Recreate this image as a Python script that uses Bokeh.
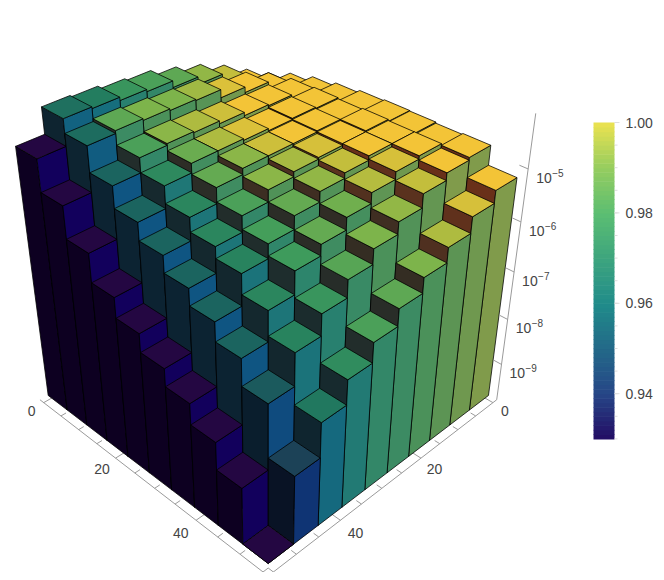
import numpy as np
from bokeh.plotting import figure
from bokeh.models import Range1d
from bokeh.embed import file_html
from bokeh.resources import INLINE

# log10 of the height of each bar, rows along the left axis, columns along the right axis
LOG_HEIGHT = [
 [-5.22,-4.96,-4.69,-4.49,-4.35,-4.23,-4.19,-4.13,-4.10,-4.59],
 [-5.04,-4.84,-4.64,-4.54,-4.39,-4.37,-4.34,-4.31,-4.36,-5.20],
 [-4.92,-4.76,-4.69,-4.67,-4.61,-4.56,-4.54,-4.57,-4.84,-5.82],
 [-4.85,-4.74,-4.72,-4.74,-4.70,-4.67,-4.67,-4.84,-5.25,-6.38],
 [-4.80,-4.76,-4.74,-4.76,-4.76,-4.76,-4.87,-5.16,-5.59,-6.78],
 [-4.78,-4.74,-4.76,-4.79,-4.82,-4.91,-5.13,-5.43,-5.92,-7.15],
 [-4.79,-4.76,-4.76,-4.84,-4.94,-5.13,-5.38,-5.65,-6.25,-7.51],
 [-4.81,-4.76,-4.82,-4.96,-5.16,-5.39,-5.60,-6.04,-6.63,-7.94],
 [-4.79,-4.84,-4.98,-5.24,-5.47,-5.76,-6.10,-6.52,-7.17,-8.51],
 [-5.16,-5.40,-5.71,-6.00,-6.30,-6.64,-7.04,-7.54,-8.26,-9.72],
]
# colour value of each bar
COLOR = [
 [1.0,1.0,.99,.983,.975,.972,.968,.96,.955,.93],
 [1.0,1.0,1.0,.995,.985,.98,.98,.975,.953,.93],
 [1.0,1.0,1.0,1.0,.992,.987,.982,.972,.95,.93],
 [1.0,1.0,1.0,1.0,.995,.987,.977,.964,.95,.93],
 [1.0,1.0,1.0,1.0,.992,.982,.976,.963,.95,.93],
 [1.0,1.0,1.0,.994,.986,.982,.972,.963,.95,.93],
 [1.0,1.0,1.0,.99,.983,.976,.971,.962,.95,.93],
 [1.0,1.0,.994,.988,.978,.976,.97,.963,.95,.93],
 [1.0,1.0,.99,.983,.98,.974,.968,.962,.948,.93],
 [1.0,.994,.987,.98,.975,.972,.965,.958,.943,.93],
]
X_TICKS = [0,5,10,15,20,25,30,35,40,45,50,55]
X_LABELS = [0,20,40]
X_MAX = 55
Z_TICKS = [-9,-8,-7,-6,-5]
BAR_TICKS = [.94,.96,.98,1.0]

STOPS = [.93,.945,.95,.96,.97,.98,.99,1.0]
TOP = [(36,7,66),(27,75,90),(27,100,95),(35,125,95),(62,155,92),(125,180,75),(195,190,60),(243,196,55)]
RIGHT = [(18,0,92),(15,60,120),(15,85,130),(22,110,125),(45,133,108),(75,145,90),(100,150,82),(128,155,75)]
LEFT = [(13,0,33),(8,22,38),(12,35,50),(16,38,46),(30,45,45),(52,45,35),(90,50,30),(105,48,25)]
BAR = [(35,12,100),(38,70,135),(32,140,138),(92,190,114),(150,205,95),(236,226,80)]
BAR_STOPS = [.93,.94,.96,.98,.99,1.0]
Q_PER_DECADE = .0295
LOG_BASE = -9.72
Q_FLOOR = .003
Q_AXIS_TOP = -.1685
CAM = np.array([[211.8/50,-304.2/50,267.7,360.1],[100.1/50,100.1/50,2075,362.8],[-.172/50,-.172/50,1,1.344]])

def proj(a,b,q):
    v = CAM @ np.array([a,b,q,1.0])
    return v[0]/v[2], v[1]/v[2]
def zq(log):
    return -Q_PER_DECADE*(log-LOG_BASE)
def col(v,stops,table):
    return "#%02x%02x%02x" % tuple(int(round(np.interp(v,stops,[t[c] for t in table]))) for c in range(3))

p = figure(width=656,height=572,x_range=Range1d(0,656),y_range=Range1d(572,0),output_backend="svg",toolbar_location=None,x_axis_location=None,y_axis_location=None,min_border=0,outline_line_color=None)
p.grid.visible=False
AX="#9a9a9a"
def seg(p1,p2,w=1.0):
    p.line([p1[0],p2[0]],[p1[1],p2[1]],line_color=AX,line_width=w)
seg(proj(-1,51,Q_FLOOR),proj(51,51,Q_FLOOR))
seg(proj(51,-1,Q_FLOOR),proj(51,51,Q_FLOOR))
seg(proj(51,-1,Q_FLOOR),proj(51,-1,Q_AXIS_TOP))
for t in X_TICKS:
    L=1.7 if t in X_LABELS else 1.0
    u=t*50/X_MAX
    seg(proj(u,51,Q_FLOOR),proj(u,51-L,Q_FLOOR))
    seg(proj(51,u,Q_FLOOR),proj(51-L,u,Q_FLOOR))

xs,ys,fc=[],[],[]
order=sorted(((i,j) for i in range(10) for j in range(10)),key=lambda t:t[0]+t[1])
for i,j in order:
    a0,a1,b0,b1=5*i,5*i+5,5*j,5*j+5
    q=zq(LOG_HEIGHT[i][j])
    c=COLOR[i][j]
    for corners,tab in ([[(a0,b1,0),(a1,b1,0),(a1,b1,q),(a0,b1,q)],LEFT],[[(a1,b1,0),(a1,b0,0),(a1,b0,q),(a1,b1,q)],RIGHT],[[(a0,b0,q),(a1,b0,q),(a1,b1,q),(a0,b1,q)],TOP]):
        pts=[proj(*k) for k in corners]
        xs.append([t[0] for t in pts]);ys.append([t[1] for t in pts]);fc.append(col(c,STOPS,tab))
p.patches(xs,ys,fill_color=fc,line_color="#000000",line_width=.9,line_alpha=.85)

TXT="#444444"
def label(x,y,s,size="14px",align="center"):
    p.text([x],[y],text=[s],text_font_size=size,text_align=align,text_baseline="middle",text_color=TXT,text_font={"value":"Liberation Sans"})
for t in X_LABELS:
    u=t*50/X_MAX
    dx,dy=12+.08*t,8+.125*t
    x,y=proj(u,51,Q_FLOOR);label(x-dx,y+dy,str(t))
    x,y=proj(51,u,Q_FLOOR);label(x+dx,y+dy,str(t))
for d in Z_TICKS:
    q=zq(d)
    seg(proj(51,-1,q),proj(49.5,-1,q))
    x,y=proj(51,-1,q)
    label(x+8,y+9,"10",align="left")
    label(x+24,y+4,"\u2212%d"%(-d),size="10px",align="left")

vals=np.linspace(.93,1.0,71)
h=.001
p.quad(left=593,right=614,top=[122+(1.0-(v+h))*4520 for v in vals[:-1]],bottom=[122+(1.0-v)*4520+.6 for v in vals[:-1]],fill_color=[col(v+h/2,BAR_STOPS,BAR) for v in vals[:-1]],line_color=None)
for v in np.arange(.93,1.0001,.005):
    y=122+(1.0-v)*4520
    p.line([614,617],[y,y],line_color="#dddddd",line_width=1)
for v in BAR_TICKS:
    y=122+(1.0-v)*4520
    p.line([614,619],[y,y],line_color="#dddddd",line_width=1)
    label(625,y,"%.2f"%v,size="14px",align="left")
open("out.html","w").write(file_html(p,INLINE))
